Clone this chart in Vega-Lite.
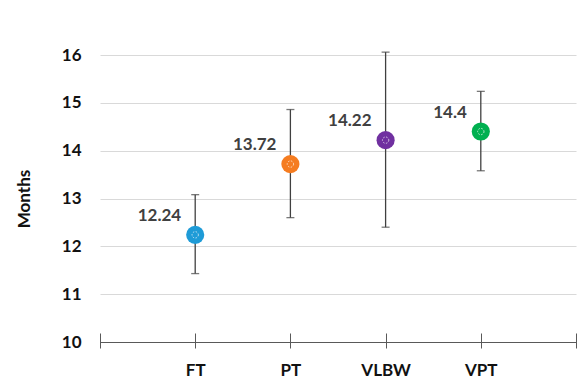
{
  "$schema": "https://vega.github.io/schema/vega-lite/v6.json",
  "autosize": "none",
  "width": 476,
  "height": 287,
  "padding": {"left": 100, "top": 55, "right": 12, "bottom": 47},
  "background": "white",
  "config": {
    "view": {"stroke": null},
    "font": "Lato"
  },
  "data": {
    "values": [
      {"group": "FT", "mean": 12.24, "lo": 11.43, "hi": 13.08},
      {"group": "PT", "mean": 13.72, "lo": 12.6, "hi": 14.86},
      {"group": "VLBW", "mean": 14.22, "lo": 12.4, "hi": 16.06},
      {"group": "VPT", "mean": 14.4, "lo": 13.58, "hi": 15.24}
    ]
  },
  "encoding": {
    "x": {
      "field": "group",
      "type": "nominal",
      "scale": {"type": "point", "domain": ["_L", "FT", "PT", "VLBW", "VPT", "_R"], "padding": 0},
      "axis": {
        "title": null,
        "domain": false,
        "offset": -9,
        "ticks": true,
        "tickSize": 15,
        "tickColor": "#595959",
        "tickWidth": 1,
        "labelExpr": "(datum.value == '_L' || datum.value == '_R') ? '' : datum.value",
        "labelAngle": 0,
        "labelFont": "Lato",
        "labelFontSize": 17,
        "labelFontWeight": "bold",
        "labelColor": "#111111",
        "labelPadding": 14,
        "grid": false
      }
    }
  },
  "layer": [
    {
      "mark": {"type": "rule", "color": "#404040", "strokeWidth": 1.3, "clip": false},
      "encoding": {
        "y": {
          "field": "lo",
          "type": "quantitative",
          "scale": {"domain": [10, 16], "nice": false, "zero": false},
          "axis": {
            "title": "Months",
            "titleFont": "Lato",
            "titleFontSize": 17,
            "titleFontWeight": "bold",
            "titleColor": "#111111",
            "titleX": -76,
            "titleBaseline": "middle",
            "values": [10, 11, 12, 13, 14, 15, 16],
            "domain": false,
            "ticks": false,
            "labelPadding": 19,
            "labelFont": "Lato",
            "labelFontSize": 17,
            "labelFontWeight": "bold",
            "labelColor": "#111111",
            "grid": true,
            "gridColor": {"condition": {"test": "datum.value == 10", "value": "#595959"}, "value": "#d9d9d9"},
            "gridWidth": 1
          }
        },
        "y2": {"field": "hi"}
      }
    },
    {
      "mark": {"type": "tick", "color": "#404040", "thickness": 1.3, "size": 8, "clip": false},
      "encoding": {"y": {"field": "lo", "type": "quantitative"}}
    },
    {
      "mark": {"type": "tick", "color": "#404040", "thickness": 1.3, "size": 8, "clip": false},
      "encoding": {"y": {"field": "hi", "type": "quantitative"}}
    },
    {
      "mark": {"type": "point", "shape": "circle", "filled": true, "size": 330, "opacity": 1},
      "encoding": {
        "y": {"field": "mean", "type": "quantitative"},
        "color": {
          "field": "group",
          "type": "nominal",
          "scale": {"domain": ["FT", "PT", "VLBW", "VPT"], "range": ["#1e9bd7", "#f57c20", "#7030a0", "#00b050"]},
          "legend": null
        }
      }
    },
    {
      "mark": {"type": "point", "shape": "circle", "filled": false, "size": 40, "stroke": "white", "strokeWidth": 0.8, "strokeDash": [1.5, 1.5], "opacity": 0.9},
      "encoding": {"y": {"field": "mean", "type": "quantitative"}}
    },
    {
      "mark": {"type": "text", "align": "right", "baseline": "middle", "dx": -14, "dy": -19, "font": "Lato", "fontSize": 17, "fontWeight": "bold", "color": "#404040"},
      "encoding": {
        "y": {"field": "mean", "type": "quantitative"},
        "text": {"field": "mean", "type": "quantitative"}
      }
    }
  ]
}
